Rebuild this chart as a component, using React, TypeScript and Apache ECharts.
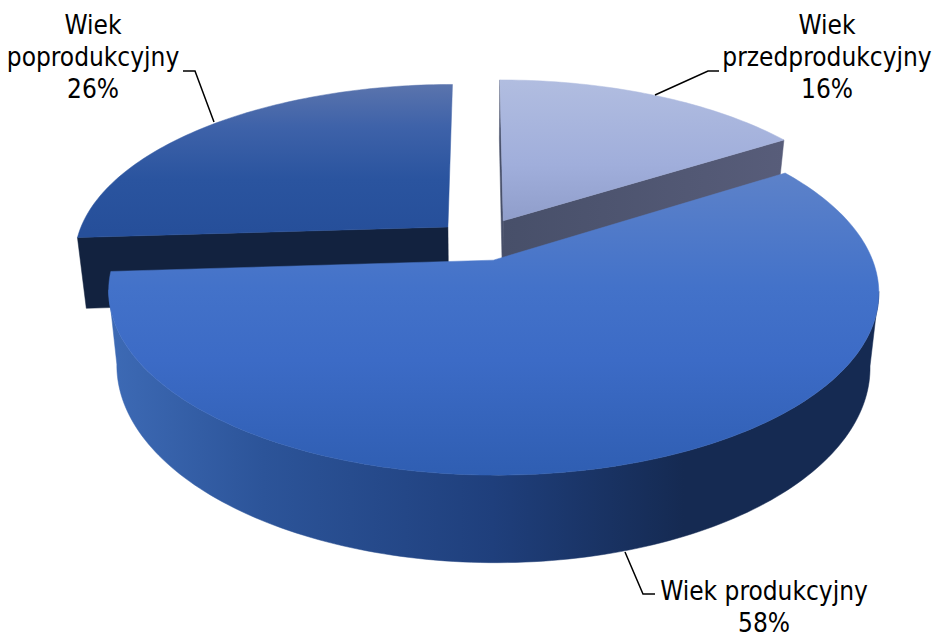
import React, { useEffect, useRef } from "react";
import * as echarts from "echarts";

// Population share by age group, in percent, clockwise from twelve o'clock.
const ageGroups = ["Wiek\nprzedprodukcyjny", "Wiek produkcyjny", "Wiek\npoprodukcyjny"];
const shares = [16, 58, 26];

// Projection of the tilted disc.
const CX = 479.5;
const CY = 240.6;
const RADIUS = 372;
const TILT_RADIUS = 171;
const PERSPECTIVE = 0.17;
const THICKNESS = 71;
const BOTTOM_SHRINK = 0.022;

type Stop = [number, string];
const vertical = (y1: number, y2: number, stops: Stop[]) =>
  new echarts.graphic.LinearGradient(0, y1, 0, y2, stops.map(([offset, color]) => ({ offset, color })), true);
const horizontal = (x1: number, x2: number, stops: Stop[]) =>
  new echarts.graphic.LinearGradient(x1, 0, x2, 0, stops.map(([offset, color]) => ({ offset, color })), true);

// Only the large slice shows its outer wall; the other two show their cut faces.
const sliceStyles = [
  {
    explode: 0.135,
    top: vertical(80, 222, [[0, "#b1bde0"], [0.6, "#a0aedb"], [1, "#8f9dca"]]),
    wall: null,
    cut: horizontal(500, 790, [[0, "#474f69"], [1, "#585d7a"]]),
    cutStart: true,
    cutEnd: true,
    order: 0,
  },
  {
    explode: 0.118,
    top: vertical(172, 476, [[0, "#5d82c9"], [0.38, "#4372c9"], [0.62, "#3c6bc6"], [1, "#2f5eb2"]]),
    wall: horizontal(110, 875, [[0, "#3d6ab5"], [0.2, "#2c5499"], [0.5, "#1f3f7c"], [0.75, "#152a52"], [1, "#152a52"]]),
    cut: "#152a52",
    cutStart: false,
    cutEnd: false,
    order: 20,
  },
  {
    explode: 0.118,
    top: vertical(82, 232, [[0, "#5c75ad"], [0.3, "#3e62a9"], [0.65, "#2a549f"], [1, "#264f9a"]]),
    wall: null,
    cut: "#12223f",
    cutStart: true,
    cutEnd: false,
    order: 0,
  },
];

// Text block and leader line for each group.
const labelPlacement = [
  { x: 827, y: 57, leader: [[655, 95], [708, 71], [719, 71]] },
  { x: 764, y: 607, leader: [[625, 552], [643, 594], [655, 594]] },
  { x: 93, y: 57, leader: [[183, 71], [195, 71], [214, 122]] },
];

// Maps a point of the unit disc (U to the right, V toward the viewer) to the page.
function project(U: number, V: number, bottom: boolean): number[] {
  const s = 1 / (1 - PERSPECTIVE * V);
  let x = RADIUS * U * s;
  let y = CY + TILT_RADIUS * V * s;
  if (bottom) {
    x *= 1 - BOTTOM_SHRINK;
    y += THICKNESS * s;
  }
  return [CX + x, y];
}

function renderSlice(params: any, api: any) {
  const index = params.dataIndex;
  const style = sliceStyles[index];
  const placement = labelPlacement[index];
  const total = shares.reduce((a, b) => a + b, 0);
  const before = shares.slice(0, index).reduce((a, b) => a + b, 0);
  const start = (before / total) * Math.PI * 2;
  const end = ((before + api.value(0)) / total) * Math.PI * 2;
  const middle = (start + end) / 2;
  const dx = style.explode * Math.sin(middle);
  const dy = -style.explode * Math.cos(middle);

  const arc = (bottom: boolean) => {
    const points: number[][] = [];
    const steps = Math.ceil((end - start) / 0.02);
    for (let i = 0; i <= steps; i++) {
      const a = start + ((end - start) * i) / steps;
      points.push(project(dx + Math.sin(a), dy - Math.cos(a), bottom));
    }
    return points;
  };

  const topArc = arc(false);
  const bottomArc = arc(true);
  const last = topArc.length - 1;
  const apexTop = project(dx, dy, false);
  const apexBottom = project(dx, dy, true);
  const polygon = (points: number[][], fill: any, z2: number) => ({
    type: "polygon",
    z2: style.order + z2,
    shape: { points },
    style: { fill, stroke: fill, lineWidth: 0.5 },
  });

  const faces: any[] = [];
  if (style.wall) {
    // Between the disc's left and right extremes the wall is front-facing, and the
    // straight closing edges run along the side silhouette.
    const xs = topArc.map((p) => p[0]);
    const right = xs.indexOf(Math.max(...xs));
    const left = xs.indexOf(Math.min(...xs));
    faces.push(
      polygon([...topArc.slice(right, left + 1), ...bottomArc.slice(right, left + 1).reverse()], style.wall, 1)
    );
  }
  if (style.cutStart) faces.push(polygon([apexTop, apexBottom, bottomArc[0], topArc[0]], style.cut, 2));
  if (style.cutEnd) faces.push(polygon([apexTop, apexBottom, bottomArc[last], topArc[last]], style.cut, 2));

  return {
    type: "group",
    children: [
      ...faces,
      polygon([apexTop, ...topArc], style.top, 3),
      {
        type: "polyline",
        z2: 40,
        shape: { points: placement.leader },
        style: { fill: "none", stroke: "#000", lineWidth: 1.5 },
      },
      {
        type: "text",
        z2: 41,
        x: placement.x,
        y: placement.y,
        style: {
          text: `${ageGroups[index]}\n${api.value(0)}%`,
          fill: "#000",
          font: '26px "DejaVu Sans Condensed"',
          lineHeight: 32,
          align: "center",
          verticalAlign: "middle",
        },
      },
    ],
  };
}

export default function App() {
  const ref = useRef<HTMLDivElement>(null);

  useEffect(() => {
    document.body.style.margin = "0";
    const chart = echarts.init(ref.current!, null, { renderer: "svg" });
    chart.setOption({
      animation: false,
      backgroundColor: "#fff",
      series: [
        {
          type: "custom",
          coordinateSystem: "none",
          renderItem: renderSlice,
          data: shares,
          clip: false,
        },
      ],
    });
    return () => chart.dispose();
  }, []);

  return <div ref={ref} style={{ width: 934, height: 634 }} />;
}
